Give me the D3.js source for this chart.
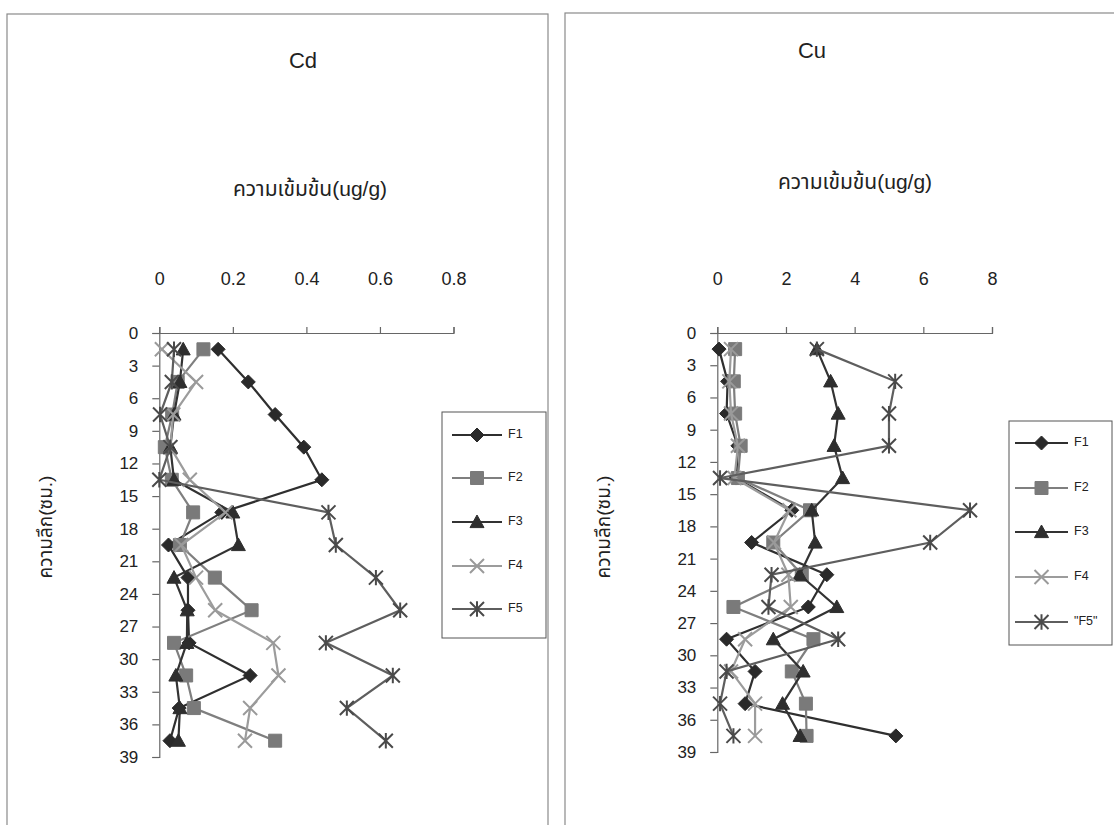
<!DOCTYPE html>
<html>
<head>
<meta charset="utf-8">
<script src="https://cdn.jsdelivr.net/npm/d3@7"></script>
<style>
  html, body { margin: 0; padding: 0; background: #fff; }
  svg { display: block; }
  text { font-family: "Liberation Sans", Arial, "Noto Sans Thai", "Noto Sans", sans-serif; fill: #222; }
</style>
</head>
<body>
<svg id="chart" width="1114" height="825"></svg>
<script>
// Sampling depths (cm), mid-points of 3 cm slices
const depths = [1.5, 4.5, 7.5, 10.5, 13.5, 16.5, 19.5, 22.5, 25.5, 28.5, 31.5, 34.5, 37.5];
const depthTicks = [0, 3, 6, 9, 12, 15, 18, 21, 24, 27, 30, 33, 36, 39];
const seriesNames = ["F1", "F2", "F3", "F4", "F5"];
const legendNamesCu = ["F1", "F2", "F3", "F4", "\"F5\""];

// Cd concentration (ug/g) per fraction
const cdF1 = [0.16, 0.242, 0.315, 0.393, 0.442, 0.17, 0.025, 0.078, 0.078, 0.081, 0.247, 0.054, 0.029];
const cdF2 = [0.12, 0.05, 0.035, 0.015, 0.034, 0.092, 0.056, 0.151, 0.251, 0.04, 0.073, 0.094, 0.315];
const cdF3 = [0.065, 0.056, 0.04, 0.03, 0.04, 0.2, 0.215, 0.04, 0.076, 0.075, 0.045, 0.056, 0.052];
const cdF4 = [0.007, 0.10, 0.038, 0.03, 0.083, 0.18, 0.06, 0.10, 0.152, 0.31, 0.324, 0.247, 0.233];
const cdF5 = [0.04, 0.034, 0.002, 0.03, 0.0, 0.46, 0.48, 0.589, 0.655, 0.453, 0.635, 0.51, 0.616];
const cdTicks = [0, 0.2, 0.4, 0.6, 0.8];

// Cu concentration (ug/g) per fraction
const cuF1 = [0.05, 0.3, 0.27, 0.6, 0.55, 2.17, 1.0, 3.19, 2.65, 0.27, 1.1, 0.81, 5.2];
const cuF2 = [0.52, 0.48, 0.52, 0.68, 0.6, 2.7, 1.63, 2.46, 0.47, 2.8, 2.17, 2.58, 2.6];
const cuF3 = [2.9, 3.3, 3.52, 3.4, 3.65, 2.75, 2.85, 2.4, 3.48, 1.63, 2.5, 1.9, 2.41];
const cuF4 = [0.4, 0.35, 0.4, 0.6, 0.5, 2.1, 1.65, 2.07, 2.14, 0.81, 0.4, 1.1, 1.1];
const cuF5 = [2.9, 5.18, 5.0, 5.0, 0.08, 7.36, 6.2, 1.58, 1.49, 3.52, 0.27, 0.08, 0.47];
const cuTicks = [0, 2, 4, 6, 8];

const xTitle = "ความเข้มข้น(ug/g)";
const yTitle = "ความลึก(ซม.)";

// Visual style of each fraction (grey-scale)
const styles = [
  { line: "#2f2f2f", fill: "#2a2a2a", stroke: "#2a2a2a", shape: "diamond" },
  { line: "#7f7f7f", fill: "#7a7a7a", stroke: "#7a7a7a", shape: "square" },
  { line: "#333333", fill: "#2e2e2e", stroke: "#2e2e2e", shape: "triangle" },
  { line: "#9c9c9c", fill: "none",    stroke: "#9a9a9a", shape: "x" },
  { line: "#5e5e5e", fill: "none",    stroke: "#4a4a4a", shape: "star" }
];

function markerPath(shape, r) {
  switch (shape) {
    case "diamond": return `M0,${-r}L${r},0L0,${r}L${-r},0Z`;
    case "square": return `M${-r},${-r}H${r}V${r}H${-r}Z`;
    case "triangle": return `M0,${-r}L${r},${r * 0.8}H${-r}Z`;
    case "x": return `M${-r},${-r}L${r},${r}M${-r},${r}L${r},${-r}`;
    case "star": return `M${-r},${-r}L${r},${r}M${-r},${r}L${r},${-r}M0,${-r * 1.1}V${r * 1.1}`;
  }
}

const svg = d3.select("#chart");

function drawPanel(cfg) {
  const g = svg.append("g");

  // panel frame
  g.append("rect")
    .attr("x", cfg.frame[0]).attr("y", cfg.frame[1])
    .attr("width", cfg.frame[2]).attr("height", cfg.frame[3])
    .attr("fill", "none").attr("stroke", "#8a8a8a").attr("stroke-width", 1.2);

  const x = d3.scaleLinear().domain(cfg.xDomain).range(cfg.xRange);
  const y = d3.scaleLinear().domain([0, 39]).range(cfg.yRange);

  // titles
  g.append("text").attr("x", cfg.titlePos[0]).attr("y", cfg.titlePos[1])
    .attr("text-anchor", "middle").attr("dominant-baseline", "middle")
    .style("font-size", "22px").text(cfg.title);
  g.append("text").attr("x", cfg.xTitlePos[0]).attr("y", cfg.xTitlePos[1])
    .attr("text-anchor", "middle").attr("dominant-baseline", "middle")
    .style("font-size", "21px").text(xTitle);
  g.append("text")
    .attr("transform", `translate(${cfg.yTitlePos[0]},${cfg.yTitlePos[1]}) rotate(-90)`)
    .attr("text-anchor", "middle").attr("dominant-baseline", "middle")
    .style("font-size", "19px").text(yTitle);

  // axes
  const xAxis = d3.axisTop(x).tickValues(cfg.xTicks).tickSize(6).tickPadding(42)
    .tickFormat(d => String(d));
  const gx = g.append("g").attr("transform", `translate(0,${cfg.yRange[0]})`).call(xAxis);
  const yAxis = d3.axisLeft(y).tickValues(depthTicks).tickSize(7).tickPadding(14)
    .tickFormat(d => String(d));
  const gy = g.append("g").attr("transform", `translate(${cfg.xRange[0]},0)`).call(yAxis);
  [gx, gy].forEach(a => {
    a.select(".domain").attr("stroke", "#666").attr("stroke-width", 1.2);
    a.selectAll(".tick line").attr("stroke", "#666").attr("stroke-width", 1.2);
    a.selectAll(".tick text").style("font-family", "'Liberation Sans', Arial, sans-serif").attr("fill", "#333");
  });
  gx.selectAll(".tick text").style("font-size", "18px");
  gy.selectAll(".tick text").style("font-size", "17px");

  // data series
  const line = d3.line().x(d => x(d[0])).y(d => y(d[1]));
  cfg.series.forEach((vals, i) => {
    const st = styles[i];
    const pts = vals.map((v, k) => [v, depths[k]]);
    const sg = g.append("g");
    sg.append("path").attr("d", line(pts)).attr("fill", "none")
      .attr("stroke", st.line).attr("stroke-width", 2.2);
    sg.selectAll("path.m").data(pts).join("path").attr("class", "m")
      .attr("transform", d => `translate(${x(d[0])},${y(d[1])})`)
      .attr("d", markerPath(st.shape, st.shape === "square" ? 6.5 : 7))
      .attr("fill", st.fill).attr("stroke", st.stroke)
      .attr("stroke-width", st.fill === "none" ? 2 : 1);
  });

  // legend
  const lg = cfg.legend;
  g.append("rect").attr("x", lg.box[0]).attr("y", lg.box[1])
    .attr("width", lg.box[2]).attr("height", lg.box[3])
    .attr("fill", "#fff").attr("stroke", "#555").attr("stroke-width", 1);
  lg.names.forEach((name, i) => {
    const st = styles[i];
    const yy = lg.rows[i];
    g.append("line").attr("x1", lg.lineX[0]).attr("x2", lg.lineX[1])
      .attr("y1", yy).attr("y2", yy).attr("stroke", st.line).attr("stroke-width", 2);
    g.append("path").attr("transform", `translate(${(lg.lineX[0] + lg.lineX[1]) / 2},${yy})`)
      .attr("d", markerPath(st.shape, st.shape === "square" ? 6.5 : 7))
      .attr("fill", st.fill).attr("stroke", st.stroke)
      .attr("stroke-width", st.fill === "none" ? 2 : 1);
    g.append("text").attr("x", lg.lineX[1] + 6).attr("y", yy)
      .attr("dominant-baseline", "middle").style("font-size", "12.5px").text(name);
  });
}

drawPanel({
  frame: [7, 14, 541, 840],
  title: "Cd", titlePos: [303, 62],
  xTitlePos: [310, 190], yTitlePos: [47, 527],
  xDomain: [0, 0.8], xRange: [159.3, 453.5], yRange: [333, 757],
  xTicks: cdTicks,
  series: [cdF1, cdF2, cdF3, cdF4, cdF5],
  legend: { box: [442, 412, 104, 226], rows: [435, 478, 522, 566, 609], lineX: [452, 502], names: seriesNames }
});

drawPanel({
  frame: [565, 13, 560, 840],
  title: "Cu", titlePos: [812, 52],
  xTitlePos: [855, 183], yTitlePos: [605, 527],
  xDomain: [0, 8], xRange: [717.3, 992], yRange: [333, 752],
  xTicks: cuTicks,
  series: [cuF1, cuF2, cuF3, cuF4, cuF5],
  legend: { box: [1009, 421, 103, 224], rows: [443, 488, 532, 577, 622], lineX: [1015, 1068], names: legendNamesCu }
});
</script>
</body>
</html>
